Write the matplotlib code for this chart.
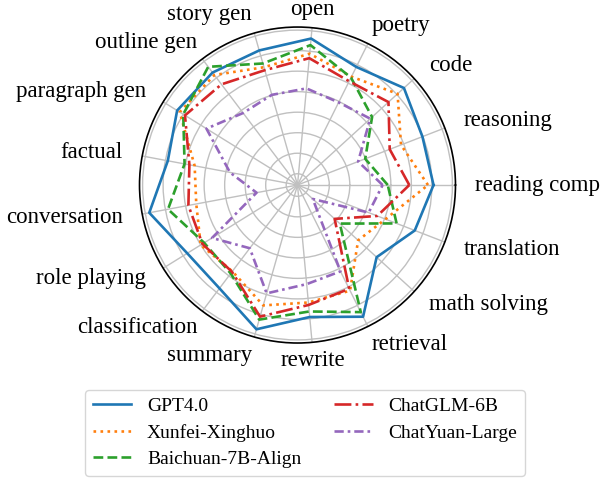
import numpy as np
import matplotlib
matplotlib.use("Agg")
import matplotlib.pyplot as plt

plt.rcParams['font.family'] = ['Liberation Serif', 'DejaVu Serif']

# categories, counter-clockwise starting at 3 o'clock
categories = ['reading comp', 'reasoning', 'code', 'poetry', 'open', 'story gen',
              'outline gen', 'paragraph gen', 'factual', 'conversation',
              'role playing', 'classification', 'summary', 'rewrite',
              'retrieval', 'math solving', 'translation']

gpt4 = [7.08, 6.98, 7.47, 6.88, 7.62, 7.27, 7.32, 7.35, 6.88, 7.80, 6.77, 6.76, 7.76, 6.91, 7.62, 5.67, 6.58]
xunfei = [6.81, 5.86, 7.05, 6.35, 6.88, 6.42, 7.17, 7.20, 5.55, 5.47, 6.00, 5.72, 6.55, 6.20, 6.20, 4.45, 5.05]
baichuan = [4.85, 3.99, 5.37, 6.30, 7.30, 6.61, 7.67, 7.00, 6.05, 6.87, 5.80, 5.85, 7.27, 6.64, 7.37, 3.24, 5.63]
chatglm = [5.90, 5.27, 6.45, 6.10, 6.66, 6.27, 6.60, 6.90, 5.81, 5.86, 5.90, 5.75, 7.12, 6.32, 6.10, 2.90, 4.62]
chatyuan = [4.60, 3.62, 5.25, 4.95, 5.18, 5.02, 4.85, 5.67, 3.80, 2.48, 5.35, 4.31, 5.94, 5.30, 5.15, 1.46, 4.17]

models = ['GPT4.0', 'Xunfei-Xinghuo', 'Baichuan-7B-Align', 'ChatGLM-6B', 'ChatYuan-Large']
series = [gpt4, xunfei, baichuan, chatglm, chatyuan]
colors = ['#1f77b4', '#ff7f0e', '#2ca02c', '#d62728', '#9467bd']
styles = ['-', ':', '--', '-.', (0, (3.5, 1.5, 1, 1.5))]

rings = [1, 2, 3, 4, 5, 6, 7, 8]

n = len(categories)
angles = np.linspace(0, 2 * np.pi, n, endpoint=False)

fig = plt.figure(figsize=(6.1, 4.78), dpi=100)
ax = fig.add_axes([0.2287, 0.2824, 0.518, 0.661], projection='polar')

for name, vals, c, ls in zip(models, series, colors, styles):
    a = np.append(angles, angles[0])
    v = np.append(vals, vals[0])
    ax.plot(a, v, color=c, linestyle=ls, linewidth=1.9, label=name)

ax.set_ylim(0.45, 8.15)
ax.set_yticks(rings)
ax.set_yticklabels([])
ax.set_xticks(angles)
ax.set_xticklabels([])
ax.grid(True, color='#c0c0c0', linewidth=1.0)
ax.spines['polar'].set_color('black')
ax.spines['polar'].set_linewidth(1.2)

# category labels anchored on their inner side
scale = 158 / (8.15 - 0.45)
for ang, lab in zip(angles, categories):
    c, s = np.cos(ang), np.sin(ang)
    ha = 'left' if c > 0.2 else ('right' if c < -0.2 else 'center')
    va = 'bottom' if s > 0.75 else ('top' if s < -0.75 else 'center')
    rpx = 178 if va == 'center' else 166
    ax.text(ang, 0.45 + rpx / scale, lab, ha=ha, va=va, fontsize=16.5,
            clip_on=False)

fig.legend(loc='lower center', bbox_to_anchor=(0.5, 0.0), ncol=2,
           fontsize=14, handlelength=2.0, columnspacing=1.7,
           labelspacing=0.45, borderaxespad=0.1, edgecolor='#cccccc')

fig.savefig('out.png', dpi=100)
